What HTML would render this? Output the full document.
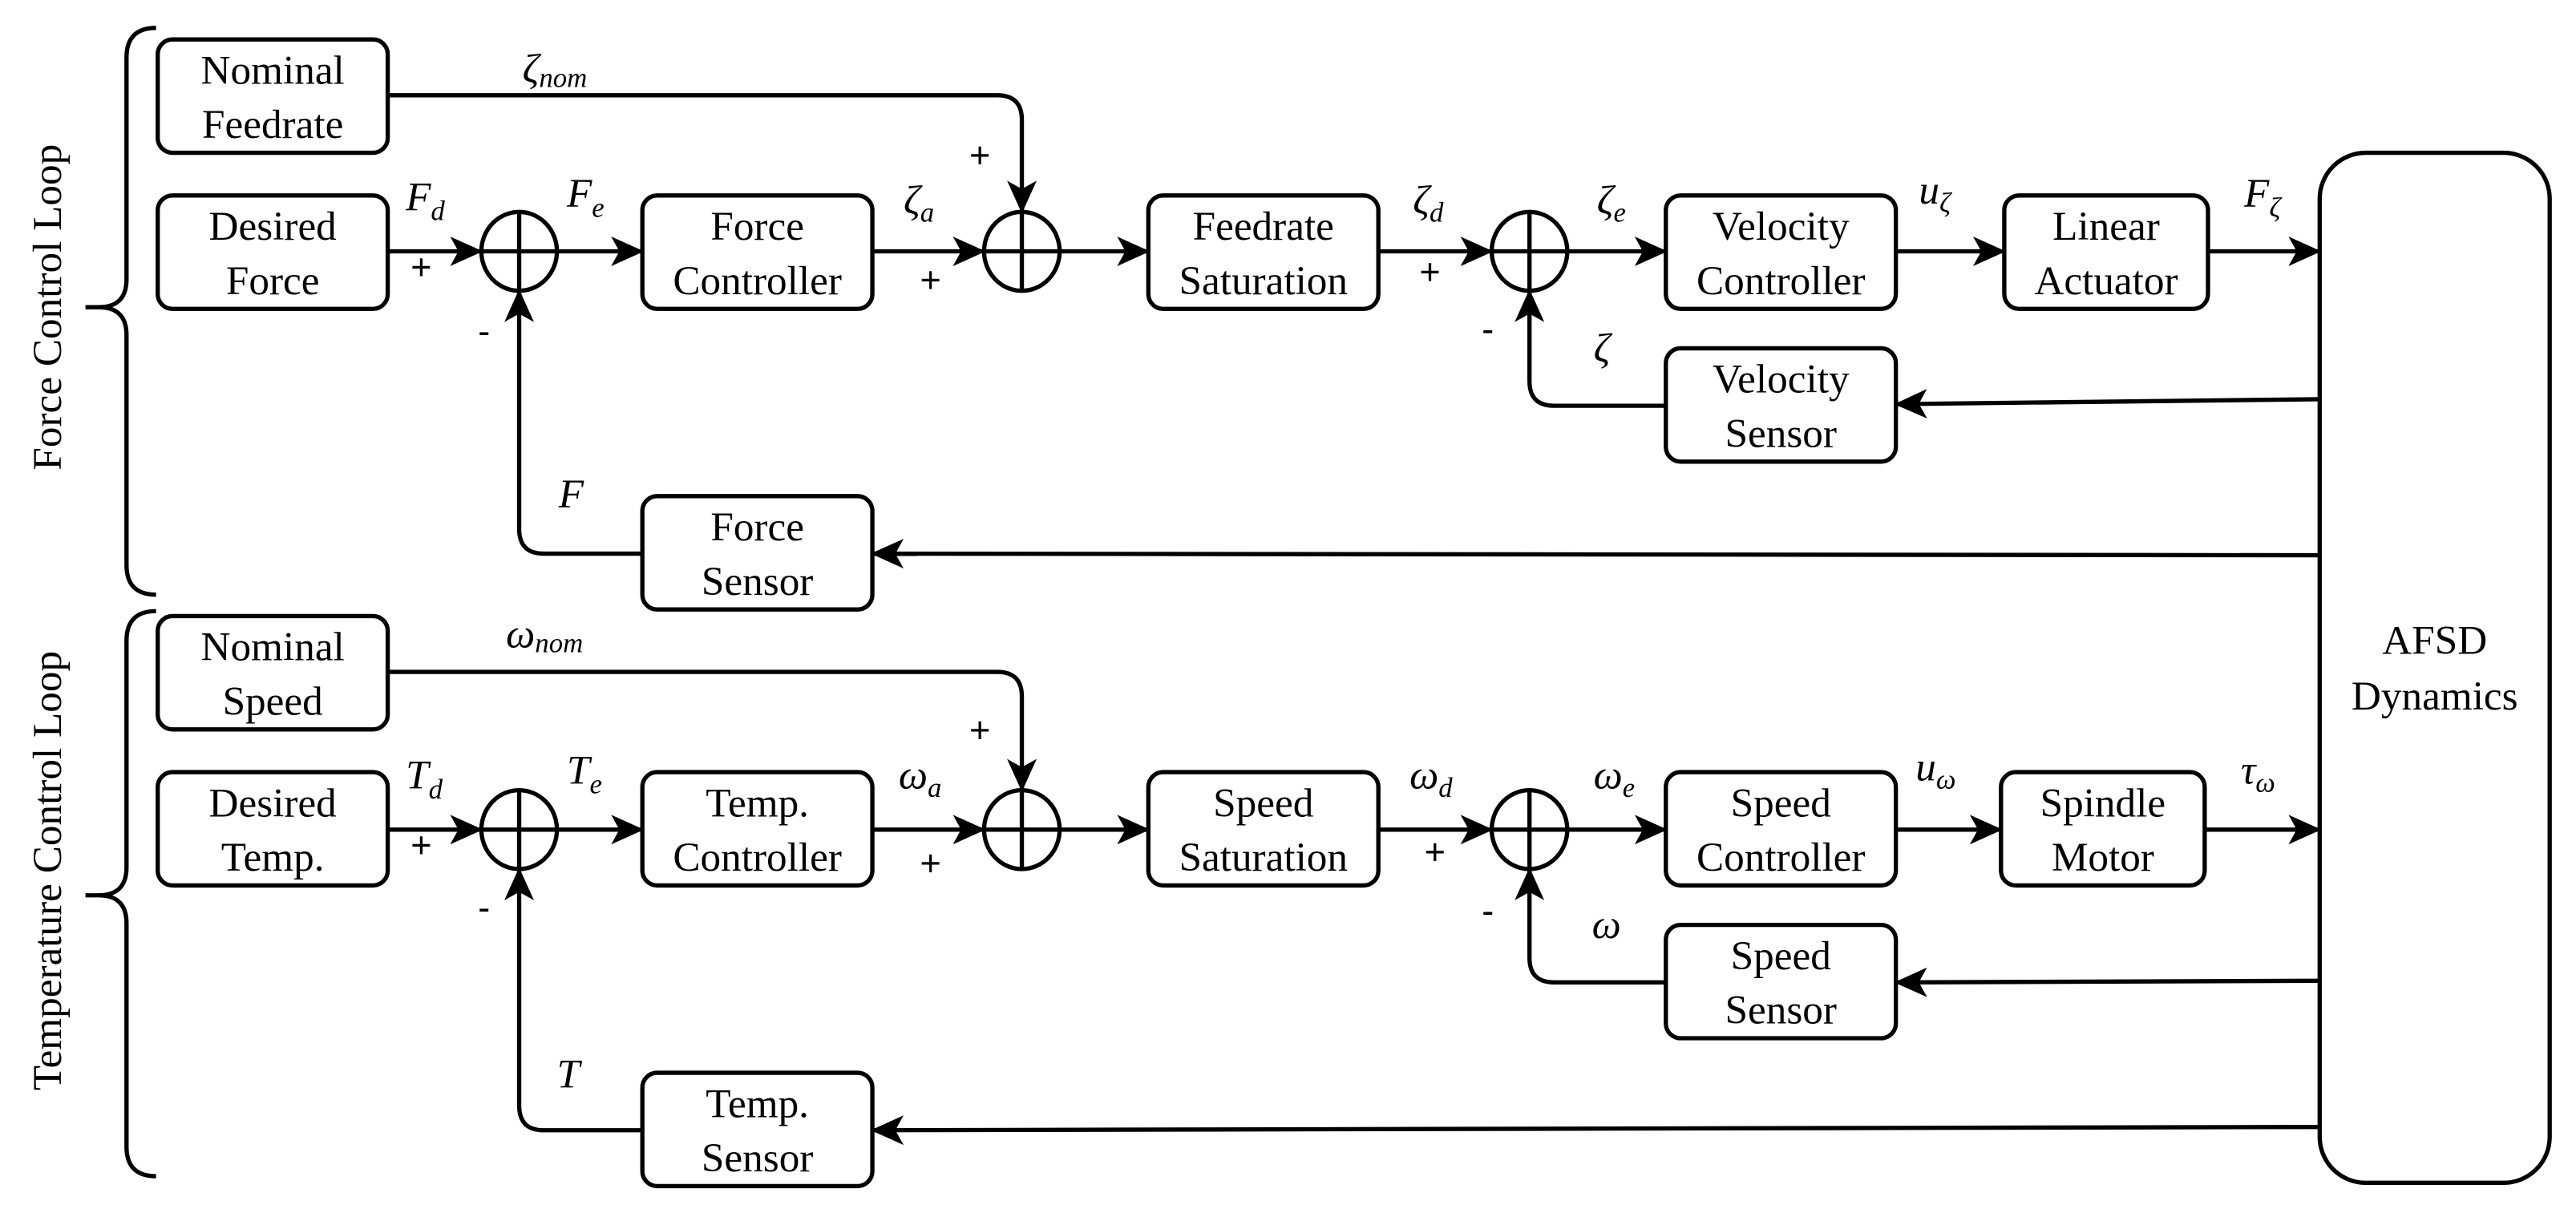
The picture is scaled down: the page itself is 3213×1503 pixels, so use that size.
<!DOCTYPE html>
<html><head><meta charset="utf-8"><style>
html,body{margin:0;padding:0;background:#fff;}
svg{display:block;}
</style></head><body>
<svg width="3213" height="1503" viewBox="0 0 1568 733.5" xmlns="http://www.w3.org/2000/svg" font-family="'Liberation Serif','DejaVu Serif',serif">
<defs>
<marker id="a" markerWidth="20" markerHeight="18" refX="19" refY="9" orient="auto" markerUnits="userSpaceOnUse">
<path d="M0,0 L20,9 L0,18 L5,9 Z" fill="#000"/>
</marker>
<style>
.b{font-family:'Liberation Serif','DejaVu Serif',serif;font-size:25px;text-anchor:middle;}
.m{font-family:'Liberation Serif','DejaVu Serif',serif;font-size:25px;font-style:italic;}
.s{font-size:17px;font-style:italic;}
.p{font-family:'Liberation Sans',sans-serif;font-size:22px;}
</style>
</defs>
<g fill="none" stroke="#000" stroke-width="2.6">
<path d="M95,17 Q77,17 77,35 L77,170 Q77,187 60,187 L52,187 M60,187 Q77,187 77,204 L77,344 Q77,362 95,362"/>
<path d="M95,372 Q77,372 77,390 L77,528 Q77,545 60,545 L52,545 M60,545 Q77,545 77,562 L77,698 Q77,716 95,716"/>
<rect x="96" y="24" width="140" height="69" rx="9"/>
<rect x="96" y="119" width="140" height="69" rx="9"/>
<rect x="391" y="119" width="140" height="69" rx="9"/>
<rect x="699" y="119" width="140" height="69" rx="9"/>
<rect x="1014" y="119" width="140" height="69" rx="9"/>
<rect x="1220" y="119" width="124" height="69" rx="9"/>
<rect x="1014" y="212" width="140" height="69" rx="9"/>
<rect x="391" y="302" width="140" height="69" rx="9"/>
<rect x="1412" y="93" width="140" height="627" rx="28"/>
<rect x="96" y="375" width="140" height="69" rx="9"/>
<rect x="96" y="470" width="140" height="69" rx="9"/>
<rect x="391" y="470" width="140" height="69" rx="9"/>
<rect x="699" y="470" width="140" height="69" rx="9"/>
<rect x="1014" y="470" width="140" height="69" rx="9"/>
<rect x="1218" y="470" width="124" height="69" rx="9"/>
<rect x="1014" y="563" width="140" height="69" rx="9"/>
<rect x="391" y="653" width="140" height="69" rx="9"/>
<ellipse cx="316" cy="153" rx="23" ry="24"/><path d="M293,153 H339 M316,129 V177"/>
<ellipse cx="622" cy="153" rx="23" ry="24"/><path d="M599,153 H645 M622,129 V177"/>
<ellipse cx="931" cy="153" rx="23" ry="24"/><path d="M908,153 H954 M931,129 V177"/>
<ellipse cx="316" cy="505" rx="23" ry="24"/><path d="M293,505 H339 M316,481 V529"/>
<ellipse cx="622" cy="505" rx="23" ry="24"/><path d="M599,505 H645 M622,481 V529"/>
<ellipse cx="931" cy="505" rx="23" ry="24"/><path d="M908,505 H954 M931,481 V529"/>
<path d="M236,153 H293" marker-end="url(#a)"/>
<path d="M339,153 H391" marker-end="url(#a)"/>
<path d="M531,153 H599" marker-end="url(#a)"/>
<path d="M645,153 H699" marker-end="url(#a)"/>
<path d="M839,153 H908" marker-end="url(#a)"/>
<path d="M954,153 H1014" marker-end="url(#a)"/>
<path d="M1154,153 H1220" marker-end="url(#a)"/>
<path d="M1344,153 H1412" marker-end="url(#a)"/>
<path d="M236,58 H607 Q622,58 622,73 V129" marker-end="url(#a)"/>
<path d="M391,337 H331 Q316,337 316,322 V177" marker-end="url(#a)"/>
<path d="M1014,247 H946 Q931,247 931,232 V177" marker-end="url(#a)"/>
<path d="M1412,243 L1154,246" marker-end="url(#a)"/>
<path d="M1412,338 L531,337" marker-end="url(#a)"/>
<path d="M236,505 H293" marker-end="url(#a)"/>
<path d="M339,505 H391" marker-end="url(#a)"/>
<path d="M531,505 H599" marker-end="url(#a)"/>
<path d="M645,505 H699" marker-end="url(#a)"/>
<path d="M839,505 H908" marker-end="url(#a)"/>
<path d="M954,505 H1014" marker-end="url(#a)"/>
<path d="M1154,505 H1218" marker-end="url(#a)"/>
<path d="M1342,505 H1412" marker-end="url(#a)"/>
<path d="M236,409 H607 Q622,409 622,424 V481" marker-end="url(#a)"/>
<path d="M391,688 H331 Q316,688 316,673 V529" marker-end="url(#a)"/>
<path d="M1014,598 H946 Q931,598 931,583 V529" marker-end="url(#a)"/>
<path d="M1412,597 L1154,598" marker-end="url(#a)"/>
<path d="M1412,686 L531,688" marker-end="url(#a)"/>
</g>
<text class="b" transform="translate(37,187) rotate(-90)">Force Control Loop</text>
<text class="b" transform="translate(37,530) rotate(-90)">Temperature Control Loop</text>
<text x="166" y="51" class="b">Nominal</text><text x="166" y="84" class="b">Feedrate</text>
<text x="166" y="146" class="b">Desired</text><text x="166" y="179" class="b">Force</text>
<text x="461" y="146" class="b">Force</text><text x="461" y="179" class="b">Controller</text>
<text x="769" y="146" class="b">Feedrate</text><text x="769" y="179" class="b">Saturation</text>
<text x="1084" y="146" class="b">Velocity</text><text x="1084" y="179" class="b">Controller</text>
<text x="1282" y="146" class="b">Linear</text><text x="1282" y="179" class="b">Actuator</text>
<text x="1084" y="239" class="b">Velocity</text><text x="1084" y="272" class="b">Sensor</text>
<text x="461" y="329" class="b">Force</text><text x="461" y="362" class="b">Sensor</text>
<text x="1482" y="398" class="b">AFSD</text><text x="1482" y="432" class="b">Dynamics</text>
<text x="166" y="402" class="b">Nominal</text><text x="166" y="435" class="b">Speed</text>
<text x="166" y="497" class="b">Desired</text><text x="166" y="530" class="b">Temp.</text>
<text x="461" y="497" class="b">Temp.</text><text x="461" y="530" class="b">Controller</text>
<text x="769" y="497" class="b">Speed</text><text x="769" y="530" class="b">Saturation</text>
<text x="1084" y="497" class="b">Speed</text><text x="1084" y="530" class="b">Controller</text>
<text x="1280" y="497" class="b">Spindle</text><text x="1280" y="530" class="b">Motor</text>
<text x="1084" y="590" class="b">Speed</text><text x="1084" y="623" class="b">Sensor</text>
<text x="461" y="680" class="b">Temp.</text><text x="461" y="713" class="b">Sensor</text>
<text x="318" y="50" class="m">ζ<tspan class="s" dy="3">nom</tspan></text>
<text x="247" y="128" class="m">F<tspan class="s" dy="6">d</tspan></text>
<text x="345" y="126" class="m">F<tspan class="s" dy="6">e</tspan></text>
<text x="550" y="130" class="m">ζ<tspan class="s" dy="5">a</tspan></text>
<text x="860" y="130" class="m">ζ<tspan class="s" dy="5">d</tspan></text>
<text x="972" y="130" class="m">ζ<tspan class="s" dy="5">e</tspan></text>
<text x="1168" y="124" class="m">u<tspan class="s" dy="5">ζ</tspan></text>
<text x="1366" y="126" class="m">F<tspan class="s" dy="6">ζ</tspan></text>
<text x="970" y="220" class="m">ζ</text>
<text x="340" y="309" class="m">F</text>
<text x="308" y="394" class="m">ω<tspan class="s" dy="3">nom</tspan></text>
<text x="247" y="480" class="m">T<tspan class="s" dy="6">d</tspan></text>
<text x="345" y="477" class="m">T<tspan class="s" dy="6">e</tspan></text>
<text x="547" y="480" class="m">ω<tspan class="s" dy="5">a</tspan></text>
<text x="858" y="480" class="m">ω<tspan class="s" dy="5">d</tspan></text>
<text x="970" y="480" class="m">ω<tspan class="s" dy="5">e</tspan></text>
<text x="1166" y="475" class="m">u<tspan class="s" dy="5">ω</tspan></text>
<text x="1364" y="477" class="m">τ<tspan class="s" dy="5">ω</tspan></text>
<text x="969" y="571" class="m">ω</text>
<text x="339" y="662" class="m">T</text>
<text class="p" x="250" y="170">+</text><text class="p" x="590" y="102">+</text><text class="p" x="560" y="178">+</text><text class="p" x="864" y="173">+</text>
<text class="p" x="291" y="209">-</text><text class="p" x="902" y="208">-</text>
<text class="p" x="250" y="522">+</text><text class="p" x="590" y="452">+</text><text class="p" x="560" y="533">+</text><text class="p" x="867" y="526">+</text>
<text class="p" x="291" y="560">-</text><text class="p" x="902" y="562">-</text>
</svg>
</body></html>
